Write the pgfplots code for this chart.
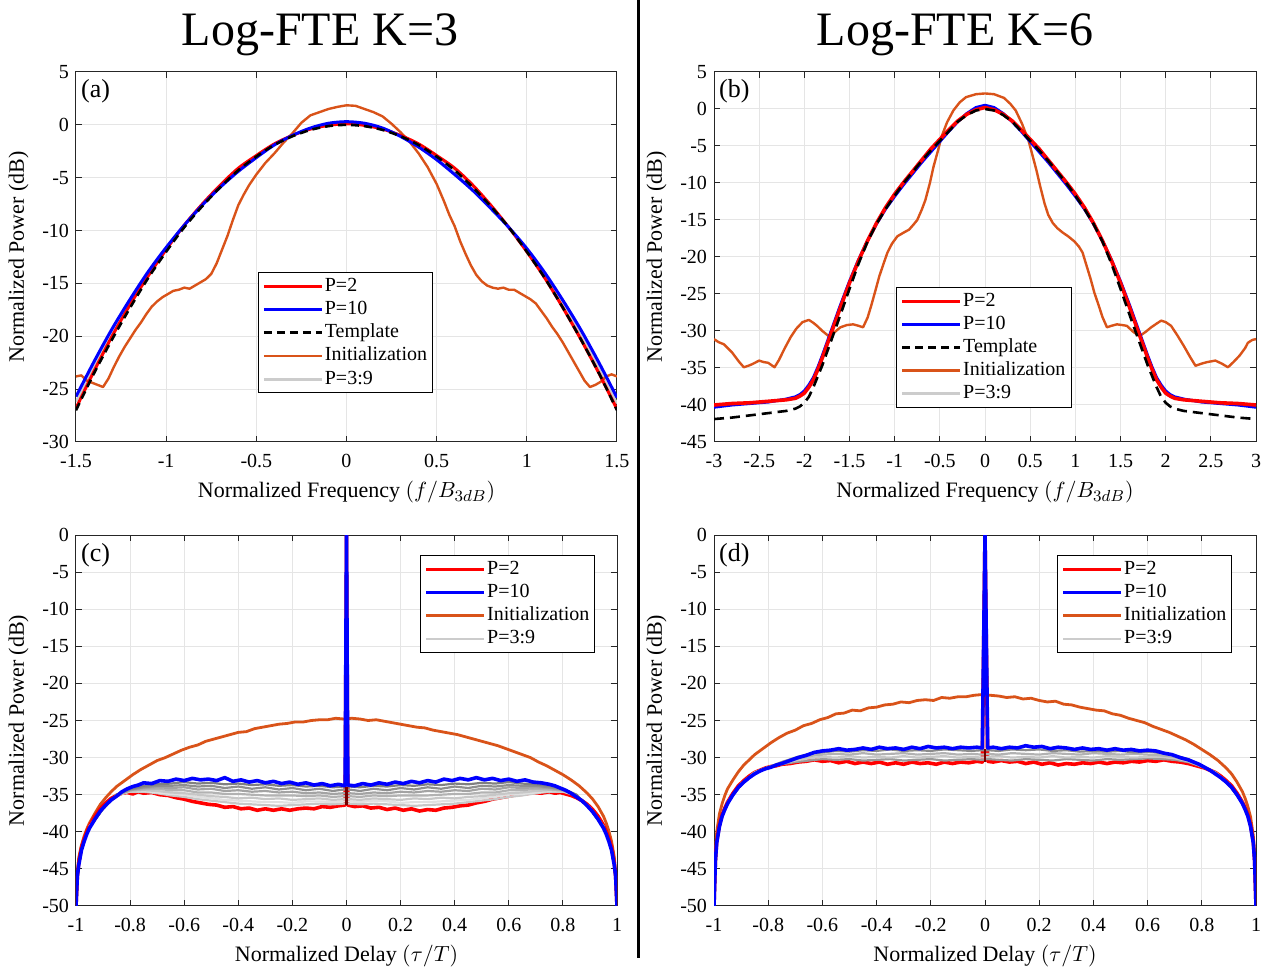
\documentclass[border=0pt]{standalone}
\usepackage{pgfplots}
\pgfplotsset{compat=1.18}
\usepackage{pgfplotstable}
\usepackage{fontspec}
\setmainfont{Liberation Serif}
\definecolor{mred}{rgb}{1,0,0}
\definecolor{mblue}{rgb}{0,0,1}
\definecolor{morange}{rgb}{0.851,0.325,0.098}
\definecolor{mgray}{rgb}{0.80,0.80,0.80}
\definecolor{mdarkred}{rgb}{0.45,0,0}
\pgfplotsset{
 mystyle/.style={
  scale only axis,
  axis line style={draw=black!85, line width=0.5pt},
  tick style={draw=black!85, line width=0.5pt},
  tick align=inside,
  major tick length=3pt,
  grid=major,
  major grid style={draw=black!10, line width=0.5pt},
  xticklabel style={font=\fontsize{10}{12}\selectfont, yshift=-2.5pt},
  yticklabel style={font=\fontsize{10}{12}\selectfont},
  label style={font=\fontsize{11}{13}\selectfont},
  /pgf/number format/assume math mode=true,
  legend image code/.code={\draw[##1] (0pt,0pt) -- (29pt,0pt);},
  legend style={draw=black, line width=0.5pt, fill=white,
    font=\fontsize{10}{12}\selectfont, inner xsep=2pt, inner ysep=1pt,
    nodes={inner sep=0.8pt, text height=7.5pt, text depth=2.5pt},
    cells={anchor=west}},
  legend cell align=left,
  every axis plot/.append style={line join=round},
 }
}
\pgfplotstableread{
x g1 g2 g3 g4 g5 g6 g7
-0.95 -39.4 -39.4 -39.3 -39.3 -39.4 -39.3 -39.3
-0.90 -36.9 -36.9 -36.8 -36.8 -36.9 -36.8 -36.8
-0.85 -35.0 -35.1 -35.1 -35.1 -35.0 -35.1 -35.1
-0.80 -34.2 -34.4 -34.5 -34.6 -34.3 -34.4 -34.5
-0.75 -33.8 -34.1 -34.4 -34.6 -34.0 -34.3 -34.5
-0.70 -33.6 -34.0 -34.5 -34.8 -33.8 -34.2 -34.7
-0.65 -33.5 -34.1 -34.7 -35.1 -33.8 -34.4 -34.9
-0.60 -33.3 -34.0 -34.8 -35.3 -33.7 -34.4 -35.0
-0.55 -33.5 -34.3 -35.0 -35.6 -33.9 -34.7 -35.3
-0.50 -33.4 -34.2 -35.2 -35.8 -33.8 -34.7 -35.5
-0.45 -33.6 -34.5 -35.3 -36.0 -34.1 -34.9 -35.7
-0.40 -33.5 -34.4 -35.5 -36.2 -33.9 -34.9 -35.8
-0.35 -33.7 -34.6 -35.4 -36.3 -34.2 -35.0 -35.9
-0.30 -33.6 -34.5 -35.6 -36.4 -34.0 -35.1 -36.0
-0.25 -33.8 -34.7 -35.5 -36.5 -34.3 -35.1 -36.0
-0.20 -33.7 -34.6 -35.7 -36.4 -34.1 -35.1 -36.1
-0.15 -33.9 -34.8 -35.6 -36.3 -34.4 -35.2 -35.9
-0.10 -33.8 -34.7 -35.5 -36.2 -34.2 -35.1 -35.9
-0.05 -34.0 -34.9 -35.7 -36.3 -34.5 -35.3 -36.0
-0.01 -33.9 -34.8 -35.6 -36.2 -34.3 -35.2 -35.9
0.01 -33.9 -34.8 -35.6 -36.2 -34.3 -35.2 -35.9
0.05 -34.0 -34.9 -35.7 -36.3 -34.5 -35.3 -36.0
0.10 -33.8 -34.7 -35.5 -36.2 -34.2 -35.1 -35.8
0.15 -33.9 -34.8 -35.6 -36.3 -34.4 -35.2 -35.9
0.20 -33.7 -34.6 -35.7 -36.4 -34.1 -35.1 -36.1
0.25 -33.8 -34.7 -35.5 -36.5 -34.3 -35.1 -36.0
0.30 -33.6 -34.5 -35.6 -36.4 -34.0 -35.1 -36.0
0.35 -33.7 -34.6 -35.4 -36.3 -34.2 -35.0 -35.9
0.40 -33.5 -34.4 -35.5 -36.2 -33.9 -34.9 -35.8
0.45 -33.6 -34.5 -35.3 -36.0 -34.1 -34.9 -35.7
0.50 -33.4 -34.2 -35.2 -35.8 -33.8 -34.7 -35.5
0.55 -33.5 -34.3 -35.0 -35.6 -33.9 -34.7 -35.3
0.60 -33.3 -34.0 -34.8 -35.3 -33.7 -34.4 -35.0
0.65 -33.5 -34.1 -34.7 -35.1 -33.8 -34.4 -34.9
0.70 -33.6 -34.0 -34.5 -34.8 -33.8 -34.2 -34.7
0.75 -33.8 -34.1 -34.4 -34.6 -34.0 -34.3 -34.5
0.80 -34.2 -34.4 -34.5 -34.6 -34.3 -34.4 -34.5
0.85 -35.0 -35.1 -35.1 -35.1 -35.0 -35.1 -35.1
0.90 -36.9 -36.9 -36.8 -36.8 -36.9 -36.8 -36.8
0.95 -39.4 -39.4 -39.3 -39.3 -39.4 -39.3 -39.3
}\grayC
\pgfplotstableread{
x g1 g2 g3 g4
-0.95 -36.1 -36.1 -36.0 -36.0
-0.90 -33.7 -33.6 -33.6 -33.5
-0.85 -32.1 -32.0 -32.0 -32.0
-0.80 -31.3 -31.3 -31.3 -31.3
-0.75 -30.6 -30.7 -30.8 -30.9
-0.70 -30.0 -30.2 -30.4 -30.6
-0.65 -29.5 -29.8 -30.1 -30.4
-0.60 -29.3 -29.6 -29.9 -30.2
-0.55 -29.1 -29.5 -30.0 -30.3
-0.50 -29.2 -29.6 -29.8 -30.2
-0.45 -29.0 -29.4 -30.0 -30.4
-0.40 -29.1 -29.6 -29.9 -30.3
-0.35 -28.9 -29.5 -30.0 -30.2
-0.30 -29.1 -29.4 -29.8 -30.4
-0.25 -29.0 -29.6 -30.0 -30.3
-0.20 -29.1 -29.5 -29.9 -30.2
-0.15 -28.9 -29.4 -29.8 -30.4
-0.10 -29.0 -29.6 -30.0 -30.3
-0.05 -29.1 -29.5 -29.9 -30.2
-0.01 -29.0 -29.6 -30.0 -30.3
0.01 -29.0 -29.5 -29.9 -30.2
0.05 -29.1 -29.6 -29.8 -30.3
0.10 -28.9 -29.4 -30.0 -30.4
0.15 -29.0 -29.5 -29.9 -30.2
0.20 -28.9 -29.6 -30.0 -30.3
0.25 -29.1 -29.4 -29.8 -30.4
0.30 -29.0 -29.5 -30.0 -30.2
0.35 -29.2 -29.6 -29.9 -30.3
0.40 -29.1 -29.4 -30.0 -30.4
0.45 -29.2 -29.5 -29.8 -30.2
0.50 -29.1 -29.6 -29.9 -30.3
0.55 -29.3 -29.5 -30.0 -30.2
0.60 -29.2 -29.6 -29.9 -30.1
0.65 -29.4 -29.7 -29.9 -30.2
0.70 -29.7 -29.9 -30.1 -30.3
0.75 -30.2 -30.4 -30.5 -30.6
0.80 -31.1 -31.2 -31.2 -31.2
0.85 -32.1 -32.0 -32.0 -32.0
0.90 -33.7 -33.6 -33.6 -33.5
0.95 -36.1 -36.1 -36.0 -36.0
}\grayD
\begin{document}
\begin{tikzpicture}
\useasboundingbox (0pt,0pt) rectangle (635pt,484.5pt);
\draw[line width=1.5pt] (319pt,484.5pt) -- (319pt,5.5pt);
\node[anchor=base, font=\fontsize{24}{28}\selectfont] at (160pt,461.5pt) {Log-FTE K=3};
\node[anchor=base, font=\fontsize{24}{28}\selectfont] at (477.5pt,461.5pt) {Log-FTE K=6};

% ---------------- (a)
\begin{axis}[mystyle, at={(38pt,263.5pt)}, anchor=south west,
  width=270.5pt, height=185pt,
  xmin=-1.5, xmax=1.5, ymin=-30, ymax=5,
  xtick={-1.5,-1,-0.5,0,0.5,1,1.5}, ytick={-30,-25,-20,-15,-10,-5,0,5},
  xlabel={Normalized Frequency $(f/B_{3dB})$}, ylabel={Normalized Power (dB)},
  legend style={at={(0.336,0.459)}, anchor=north west}]
\addlegendimage{mred, line width=1.5pt}\addlegendentry{P=2}
\addlegendimage{mblue, line width=1.5pt}\addlegendentry{P=10}
\addlegendimage{black, line width=1.3pt, dash pattern=on 4pt off 2.5pt}\addlegendentry{Template}
\addlegendimage{morange, line width=1.2pt}\addlegendentry{Initialization}
\addlegendimage{mgray, line width=1.5pt}\addlegendentry{P=3:9}
\addplot[forget plot, mgray, line width=1.2pt, smooth] coordinates {
(-1.5,-26.2) (-1.4,-22.8) (-1.3,-19.7) (-1.2,-16.8) (-1.1,-14.1) (-1.0,-11.7) (-0.9,-9.5) (-0.8,-7.55) (-0.7,-5.8) (-0.6,-4.25) (-0.5,-3.0) (-0.4,-1.85) (-0.3,-1.0) (-0.2,-0.35) (-0.1,0.05) (0,0.2)
(0.1,0.05) (0.2,-0.35) (0.3,-1.05) (0.4,-1.95) (0.5,-3.1) (0.6,-4.4) (0.7,-5.95) (0.8,-7.75) (0.9,-9.7) (1.0,-11.85) (1.1,-14.25) (1.2,-16.95) (1.3,-19.85) (1.4,-23.0) (1.5,-26.35)};
\addplot[forget plot, morange, line width=1.2pt] coordinates {
(-1.5,-23.8) (-1.47,-23.7) (-1.44,-24.2) (-1.41,-24.4) (-1.38,-24.6) (-1.35,-24.8) (-1.32,-24.0) (-1.29,-22.9) (-1.26,-21.9) (-1.23,-21.0) (-1.2,-20.2) (-1.17,-19.4) (-1.14,-18.7) (-1.11,-17.9) (-1.08,-17.2) (-1.05,-16.7) (-1.02,-16.3) (-0.99,-16.0) (-0.96,-15.7) (-0.93,-15.6) (-0.9,-15.4) (-0.87,-15.5) (-0.84,-15.2) (-0.81,-14.9) (-0.78,-14.6) (-0.75,-14.1) (-0.72,-13.1) (-0.69,-11.8) (-0.66,-10.5) (-0.63,-9.0) (-0.6,-7.6) (-0.57,-6.6) (-0.54,-5.7) (-0.5,-4.7) (-0.45,-3.6) (-0.4,-2.7) (-0.35,-1.7) (-0.3,-0.8) (-0.25,0.2) (-0.2,0.9) (-0.15,1.2) (-0.1,1.5) (-0.05,1.7) (0,1.85) (0.05,1.8) (0.1,1.5) (0.15,1.2) (0.2,0.8) (0.25,0.1) (0.3,-0.7) (0.35,-1.6) (0.4,-2.7) (0.45,-4.0) (0.5,-5.6) (0.54,-7.2) (0.57,-8.5) (0.6,-9.6) (0.63,-11.0) (0.66,-12.2) (0.69,-13.3) (0.72,-14.2) (0.75,-14.8) (0.78,-15.2) (0.81,-15.4) (0.84,-15.5) (0.87,-15.4) (0.9,-15.6) (0.93,-15.6) (0.96,-15.9) (0.99,-16.2) (1.02,-16.5) (1.05,-16.9) (1.08,-17.6) (1.11,-18.3) (1.14,-19.1) (1.17,-19.8) (1.2,-20.6) (1.23,-21.5) (1.26,-22.4) (1.29,-23.3) (1.32,-24.2) (1.35,-24.8) (1.38,-24.6) (1.41,-24.3) (1.44,-23.8) (1.47,-23.6) (1.5,-23.8)};
\addplot[forget plot, mred, line width=1.5pt, smooth] coordinates {
(-1.5,-26.8) (-1.4,-23.3) (-1.3,-20.0) (-1.2,-17.0) (-1.1,-14.3) (-1.0,-11.8) (-0.9,-9.5) (-0.8,-7.5) (-0.7,-5.7) (-0.6,-4.1) (-0.5,-2.9) (-0.4,-1.8) (-0.3,-1.0) (-0.2,-0.4) (-0.1,-0.05) (0,0.1)
(0.1,-0.05) (0.2,-0.4) (0.3,-1.0) (0.4,-1.8) (0.5,-2.9) (0.6,-4.1) (0.7,-5.7) (0.8,-7.6) (0.9,-9.7) (1.0,-12.0) (1.1,-14.5) (1.2,-17.3) (1.3,-20.3) (1.4,-23.5) (1.5,-26.9)};
\addplot[forget plot, mblue, line width=1.5pt, smooth] coordinates {
(-1.5,-25.7) (-1.4,-22.4) (-1.3,-19.3) (-1.2,-16.5) (-1.1,-13.9) (-1.0,-11.6) (-0.9,-9.5) (-0.8,-7.6) (-0.7,-5.9) (-0.6,-4.4) (-0.5,-3.1) (-0.4,-1.9) (-0.3,-1.0) (-0.2,-0.3) (-0.1,0.15) (0,0.3)
(0.1,0.15) (0.2,-0.3) (0.3,-1.1) (0.4,-2.1) (0.5,-3.3) (0.6,-4.7) (0.7,-6.2) (0.8,-7.9) (0.9,-9.7) (1.0,-11.7) (1.1,-14.0) (1.2,-16.6) (1.3,-19.4) (1.4,-22.5) (1.5,-25.8)};
\addplot[forget plot, black, line width=1.3pt, dash pattern=on 4pt off 2.5pt, smooth] coordinates {
(-1.5,-27.0) (-1.4,-23.5) (-1.3,-20.3) (-1.2,-17.3) (-1.1,-14.5) (-1.0,-12.0) (-0.9,-9.7) (-0.8,-7.7) (-0.7,-5.9) (-0.6,-4.3) (-0.5,-3.0) (-0.4,-1.9) (-0.3,-1.08) (-0.2,-0.48) (-0.1,-0.12) (0,0)
(0.1,-0.12) (0.2,-0.48) (0.3,-1.08) (0.4,-1.9) (0.5,-3.0) (0.6,-4.3) (0.7,-5.9) (0.8,-7.7) (0.9,-9.7) (1.0,-12.0) (1.1,-14.5) (1.2,-17.3) (1.3,-20.3) (1.4,-23.5) (1.5,-27.0)};
\node[anchor=north west, font=\fontsize{13}{15}\selectfont, inner sep=1pt] at (rel axis cs:0.005,0.985) {(a)};
\end{axis}

% ---------------- (b)
\begin{axis}[mystyle, at={(357pt,263.5pt)}, anchor=south west,
  width=271pt, height=185pt,
  xmin=-3, xmax=3, ymin=-45, ymax=5,
  xtick={-3,-2.5,-2,-1.5,-1,-0.5,0,0.5,1,1.5,2,2.5,3}, ytick={-45,-40,-35,-30,-25,-20,-15,-10,-5,0,5},
  xlabel={Normalized Frequency $(f/B_{3dB})$}, ylabel={Normalized Power (dB)},
  legend style={at={(0.336,0.419)}, anchor=north west}]
\addlegendimage{mred, line width=1.5pt}\addlegendentry{P=2}
\addlegendimage{mblue, line width=1.5pt}\addlegendentry{P=10}
\addlegendimage{black, line width=1.3pt, dash pattern=on 4pt off 2.5pt}\addlegendentry{Template}
\addlegendimage{morange, line width=1.2pt}\addlegendentry{Initialization}
\addlegendimage{mgray, line width=1.5pt}\addlegendentry{P=3:9}
\addplot[forget plot, morange, line width=1.2pt] coordinates {
(-3,-31.1) (-2.95,-31.5) (-2.89,-31.8) (-2.8,-32.9) (-2.72,-34.2) (-2.67,-34.9) (-2.62,-34.7) (-2.58,-34.5) (-2.5,-34.0) (-2.45,-34.2) (-2.4,-34.3) (-2.33,-34.9) (-2.28,-33.9) (-2.22,-32.4) (-2.15,-30.8) (-2.09,-29.7) (-2.02,-28.8) (-1.95,-28.5) (-1.9,-28.9) (-1.86,-29.3) (-1.8,-30.0) (-1.73,-30.7) (-1.66,-30.1) (-1.6,-29.5) (-1.53,-29.2) (-1.46,-29.1) (-1.4,-29.3) (-1.35,-29.5) (-1.3,-28.2) (-1.26,-26.6) (-1.21,-24.4) (-1.17,-22.6) (-1.12,-20.8) (-1.08,-19.4) (-1.03,-18.2) (-0.97,-17.2) (-0.9,-16.7) (-0.84,-16.3) (-0.79,-15.6) (-0.75,-15.0) (-0.7,-13.6) (-0.66,-12.3) (-0.61,-10.0) (-0.57,-7.8) (-0.52,-5.6) (-0.48,-3.7) (-0.42,-1.8) (-0.35,-0.2) (-0.28,0.9) (-0.21,1.6) (-0.1,2.0) (0,2.1)
(0.1,2.0) (0.21,1.5) (0.28,0.7) (0.34,-0.2) (0.41,-2.0) (0.48,-4.2) (0.52,-6.0) (0.57,-8.3) (0.61,-10.4) (0.66,-12.8) (0.7,-14.3) (0.75,-15.4) (0.8,-16.1) (0.86,-16.7) (0.92,-17.2) (0.99,-17.9) (1.04,-18.6) (1.08,-19.4) (1.12,-21.0) (1.17,-23.0) (1.21,-24.8) (1.26,-26.6) (1.3,-28.1) (1.35,-29.5) (1.4,-29.3) (1.46,-29.1) (1.52,-29.2) (1.57,-29.3) (1.64,-30.1) (1.71,-30.7) (1.78,-30.1) (1.84,-29.5) (1.9,-29.0) (1.95,-28.6) (2.0,-28.8) (2.06,-29.3) (2.13,-30.6) (2.2,-32.0) (2.27,-33.5) (2.33,-34.7) (2.4,-34.4) (2.46,-34.2) (2.55,-34.0) (2.62,-34.4) (2.69,-34.9) (2.75,-34.2) (2.82,-33.3) (2.88,-32.3) (2.91,-31.6) (2.96,-31.2) (3,-31.1)};
\addplot[forget plot, mgray, line width=1.2pt] coordinates {
(-3,-40.15) (-2.8,-39.9) (-2.6,-39.75) (-2.4,-39.55) (-2.2,-39.25) (-2.1,-39.0) (-2.05,-38.7) (-2.0,-38.25) (-1.95,-37.45) (-1.9,-36.45) (-1.85,-35.05) (-1.8,-33.45) (-1.7,-30.05) (-1.6,-26.65) (-1.5,-23.4) (-1.4,-20.45) (-1.3,-17.8) (-1.2,-15.45) (-1.1,-13.4) (-1.0,-11.65) (-0.9,-10.05) (-0.8,-8.55) (-0.7,-7.05) (-0.6,-5.6) (-0.5,-4.25) (-0.4,-2.9) (-0.3,-1.65) (-0.2,-0.65) (-0.1,0.05) (0,0.35)
(0.1,0.05) (0.2,-0.65) (0.3,-1.65) (0.4,-2.9) (0.5,-4.25) (0.6,-5.6) (0.7,-7.05) (0.8,-8.55) (0.9,-10.05) (1.0,-11.65) (1.1,-13.4) (1.2,-15.45) (1.3,-17.8) (1.4,-20.45) (1.5,-23.4) (1.6,-26.65) (1.7,-30.05) (1.8,-33.45) (1.85,-35.05) (1.9,-36.45) (1.95,-37.45) (2.0,-38.25) (2.05,-38.7) (2.1,-39.0) (2.2,-39.25) (2.4,-39.55) (2.6,-39.75) (2.8,-39.9) (3,-40.15)};
\addplot[forget plot, mblue, line width=1.5pt] coordinates {
(-3,-40.3) (-2.8,-40.0) (-2.6,-39.8) (-2.4,-39.6) (-2.2,-39.2) (-2.1,-38.9) (-2.05,-38.6) (-2.0,-38.1) (-1.95,-37.3) (-1.9,-36.3) (-1.85,-34.9) (-1.8,-33.3) (-1.7,-29.9) (-1.6,-26.5) (-1.5,-23.3) (-1.4,-20.4) (-1.3,-17.8) (-1.2,-15.5) (-1.1,-13.5) (-1.0,-11.8) (-0.9,-10.2) (-0.8,-8.7) (-0.7,-7.2) (-0.6,-5.8) (-0.5,-4.4) (-0.4,-3.0) (-0.3,-1.7) (-0.2,-0.6) (-0.1,0.2) (0,0.5)
(0.1,0.2) (0.2,-0.6) (0.3,-1.7) (0.4,-3.0) (0.5,-4.4) (0.6,-5.8) (0.7,-7.2) (0.8,-8.7) (0.9,-10.2) (1.0,-11.8) (1.1,-13.5) (1.2,-15.5) (1.3,-17.8) (1.4,-20.4) (1.5,-23.3) (1.6,-26.5) (1.7,-29.9) (1.8,-33.3) (1.85,-34.9) (1.9,-36.3) (1.95,-37.3) (2.0,-38.1) (2.05,-38.6) (2.1,-38.9) (2.2,-39.2) (2.4,-39.6) (2.6,-39.8) (2.8,-40.0) (3,-40.3)};
\addplot[forget plot, mred, line width=1.8pt] coordinates {
(-3,-40.0) (-2.8,-39.8) (-2.6,-39.7) (-2.4,-39.5) (-2.2,-39.3) (-2.1,-39.1) (-2.05,-38.8) (-2.0,-38.4) (-1.95,-37.6) (-1.9,-36.6) (-1.85,-35.2) (-1.8,-33.6) (-1.7,-30.2) (-1.6,-26.8) (-1.5,-23.5) (-1.4,-20.5) (-1.3,-17.8) (-1.2,-15.4) (-1.1,-13.3) (-1.0,-11.5) (-0.9,-9.9) (-0.8,-8.4) (-0.7,-6.9) (-0.6,-5.4) (-0.5,-4.1) (-0.4,-2.8) (-0.3,-1.6) (-0.2,-0.7) (-0.1,-0.1) (0,0.2)
(0.1,-0.1) (0.2,-0.7) (0.3,-1.6) (0.4,-2.8) (0.5,-4.1) (0.6,-5.4) (0.7,-6.9) (0.8,-8.4) (0.9,-9.9) (1.0,-11.5) (1.1,-13.3) (1.2,-15.4) (1.3,-17.8) (1.4,-20.5) (1.5,-23.5) (1.6,-26.8) (1.7,-30.2) (1.8,-33.6) (1.85,-35.2) (1.9,-36.6) (1.95,-37.6) (2.0,-38.4) (2.05,-38.8) (2.1,-39.1) (2.2,-39.3) (2.4,-39.5) (2.6,-39.7) (2.8,-39.8) (3,-40.0)};
\addplot[forget plot, black, line width=1.3pt, dash pattern=on 5pt off 3pt] coordinates {
(-3,-41.9) (-2.8,-41.7) (-2.6,-41.4) (-2.4,-41.1) (-2.2,-40.8) (-2.1,-40.5) (-2.05,-40.2) (-2.0,-39.7) (-1.95,-38.9) (-1.9,-37.6) (-1.8,-34.6) (-1.7,-31.2) (-1.6,-27.8) (-1.5,-24.3) (-1.4,-20.9) (-1.3,-17.9) (-1.2,-15.5) (-1.1,-13.5) (-1.0,-11.7) (-0.9,-10.0) (-0.8,-8.5) (-0.7,-7.0) (-0.6,-5.6) (-0.5,-4.3) (-0.4,-3.0) (-0.3,-1.7) (-0.2,-0.8) (-0.1,-0.2) (0,0)
(0.1,-0.2) (0.2,-0.8) (0.3,-1.7) (0.4,-3.0) (0.5,-4.3) (0.6,-5.6) (0.7,-7.0) (0.8,-8.5) (0.9,-10.0) (1.0,-11.7) (1.1,-13.5) (1.2,-15.5) (1.3,-17.9) (1.4,-20.9) (1.5,-24.3) (1.6,-27.8) (1.7,-31.2) (1.8,-34.6) (1.9,-37.6) (1.95,-38.9) (2.0,-39.7) (2.05,-40.2) (2.1,-40.5) (2.2,-40.8) (2.4,-41.1) (2.6,-41.4) (2.8,-41.7) (3,-41.9)};
\node[anchor=north west, font=\fontsize{13}{15}\selectfont, inner sep=1pt] at (rel axis cs:0.005,0.985) {(b)};
\end{axis}

% ---------------- (c)
\begin{axis}[mystyle, at={(38pt,31.5pt)}, anchor=south west,
  width=270.5pt, height=185.5pt,
  xmin=-1, xmax=1, ymin=-50, ymax=0,
  xtick={-1,-0.8,-0.6,-0.4,-0.2,0,0.2,0.4,0.6,0.8,1}, ytick={-50,-45,-40,-35,-30,-25,-20,-15,-10,-5,0},
  xlabel={Normalized Delay $(\tau/T)$}, ylabel={Normalized Power (dB)},
  legend style={at={(0.636,0.946)}, anchor=north west}]
\addlegendimage{mred, line width=1.5pt}\addlegendentry{P=2}
\addlegendimage{mblue, line width=1.5pt}\addlegendentry{P=10}
\addlegendimage{morange, line width=1.5pt}\addlegendentry{Initialization}
\addlegendimage{mgray, line width=1pt}\addlegendentry{P=3:9}
\addplot[forget plot, morange, line width=1.4pt] coordinates {
(-1,-50) (-0.995,-46) (-0.99,-43.5) (-0.98,-41.8) (-0.97,-40.6) (-0.96,-39.6) (-0.95,-38.8) (-0.93,-37.5) (-0.91,-36.3) (-0.89,-35.4) (-0.87,-34.6) (-0.85,-33.9) (-0.82,-33.1) (-0.79,-32.3) (-0.76,-31.6) (-0.73,-31.0) (-0.7,-30.4) (-0.67,-30.0) (-0.64,-29.5) (-0.61,-29.0) (-0.58,-28.6) (-0.55,-28.3) (-0.52,-27.8) (-0.49,-27.5) (-0.46,-27.2) (-0.43,-26.9) (-0.4,-26.6) (-0.37,-26.5) (-0.34,-26.1) (-0.31,-25.9) (-0.28,-25.7) (-0.25,-25.5) (-0.22,-25.4) (-0.19,-25.2) (-0.16,-25.2) (-0.13,-25.0) (-0.1,-24.9) (-0.07,-24.9) (-0.04,-24.7) (-0.01,-24.8) (0.02,-24.7) (0.05,-24.8) (0.08,-25.0) (0.11,-24.9) (0.14,-25.1) (0.17,-25.3) (0.2,-25.5) (0.23,-25.7) (0.26,-25.9) (0.29,-26.0) (0.32,-26.3) (0.35,-26.5) (0.38,-26.7) (0.41,-26.9) (0.44,-27.2) (0.47,-27.5) (0.5,-27.8) (0.53,-28.1) (0.56,-28.4) (0.59,-28.8) (0.62,-29.2) (0.65,-29.6) (0.68,-30.0) (0.71,-30.6) (0.74,-31.1) (0.77,-31.7) (0.8,-32.3) (0.83,-33.0) (0.86,-33.8) (0.89,-34.8) (0.91,-35.6) (0.93,-36.6) (0.95,-37.9) (0.96,-38.8) (0.97,-39.9) (0.98,-41.3) (0.99,-43.4) (0.995,-46) (1,-50)};
\addplot[forget plot, mred, line width=1.8pt] coordinates {
(-1,-50) (-0.995,-46) (-0.99,-44.2) (-0.98,-42.2) (-0.97,-41.0) (-0.96,-40.0) (-0.95,-39.2) (-0.93,-37.9) (-0.91,-36.9) (-0.89,-36.1) (-0.87,-35.5) (-0.85,-35.1) (-0.83,-34.8) (-0.81,-34.7) (-0.79,-34.9) (-0.77,-34.6) (-0.75,-34.8) (-0.72,-34.7) (-0.69,-35.0) (-0.66,-35.1) (-0.63,-35.4) (-0.6,-35.6) (-0.57,-35.9) (-0.54,-36.1) (-0.51,-36.3) (-0.48,-36.4) (-0.45,-36.7) (-0.42,-36.6) (-0.39,-36.9) (-0.36,-36.8) (-0.33,-37.1) (-0.3,-36.9) (-0.27,-37.1) (-0.24,-36.9) (-0.21,-37.1) (-0.18,-36.9) (-0.15,-36.8) (-0.12,-36.9) (-0.09,-36.6) (-0.06,-36.7) (-0.03,-36.5) (-0.005,-36.4) (0,0) (0.005,-36.4) (0.03,-36.6) (0.06,-36.5) (0.09,-36.8) (0.12,-36.7) (0.15,-37.0) (0.18,-36.8) (0.21,-37.1) (0.24,-36.9) (0.27,-37.2) (0.3,-37.0) (0.33,-37.1) (0.36,-36.8) (0.39,-36.7) (0.42,-36.5) (0.45,-36.4) (0.48,-36.1) (0.51,-35.9) (0.54,-35.6) (0.57,-35.4) (0.6,-35.2) (0.63,-35.0) (0.66,-34.9) (0.69,-34.7) (0.72,-34.8) (0.75,-34.6) (0.77,-34.8) (0.79,-34.7) (0.81,-34.9) (0.83,-35.1) (0.85,-35.4) (0.87,-35.8) (0.89,-36.3) (0.91,-37.0) (0.93,-37.9) (0.95,-39.1) (0.96,-39.9) (0.97,-40.9) (0.98,-42.1) (0.99,-44.2) (0.995,-46) (1,-50)};
\addplot[forget plot, black!22, line width=1.1pt] table[x=x, y=g4] {\grayC};
\addplot[forget plot, black!12, line width=1.1pt] table[x=x, y=g7] {\grayC};
\addplot[forget plot, black!22, line width=1.1pt] table[x=x, y=g3] {\grayC};
\addplot[forget plot, black!30, line width=1.1pt] table[x=x, y=g6] {\grayC};
\addplot[forget plot, black!36, line width=1.1pt] table[x=x, y=g2] {\grayC};
\addplot[forget plot, black!44, line width=1.1pt] table[x=x, y=g5] {\grayC};
\addplot[forget plot, black!50, line width=1.1pt] table[x=x, y=g1] {\grayC};
\addplot[forget plot, mblue, line width=1.8pt] coordinates {
(-1,-50) (-0.995,-46) (-0.99,-44.5) (-0.98,-42.5) (-0.97,-41.3) (-0.96,-40.3) (-0.95,-39.5) (-0.93,-38.3) (-0.91,-37.2) (-0.89,-36.4) (-0.87,-35.7) (-0.85,-35.2) (-0.83,-34.6) (-0.81,-34.2) (-0.79,-33.9) (-0.77,-33.7) (-0.75,-33.4) (-0.72,-33.5) (-0.69,-33.1) (-0.66,-33.2) (-0.63,-32.9) (-0.6,-33.1) (-0.57,-32.8) (-0.54,-33.0) (-0.51,-32.9) (-0.48,-33.1) (-0.45,-32.7) (-0.42,-33.2) (-0.39,-33.0) (-0.36,-33.3) (-0.33,-33.1) (-0.3,-33.4) (-0.27,-33.2) (-0.24,-33.5) (-0.21,-33.3) (-0.18,-33.6) (-0.15,-33.4) (-0.12,-33.7) (-0.09,-33.5) (-0.06,-33.8) (-0.03,-33.6) (-0.005,-33.8) (0,0) (0.005,-33.7) (0.03,-33.8) (0.06,-33.5) (0.09,-33.7) (0.12,-33.4) (0.15,-33.6) (0.18,-33.3) (0.21,-33.5) (0.24,-33.2) (0.27,-33.4) (0.3,-33.1) (0.33,-33.3) (0.36,-32.9) (0.39,-33.1) (0.42,-32.8) (0.45,-33.0) (0.48,-32.7) (0.51,-33.0) (0.54,-32.8) (0.57,-33.1) (0.6,-32.9) (0.63,-33.2) (0.66,-33.0) (0.69,-33.3) (0.72,-33.4) (0.75,-33.6) (0.77,-33.8) (0.79,-34.1) (0.81,-34.4) (0.83,-34.8) (0.85,-35.3) (0.87,-35.8) (0.89,-36.5) (0.91,-37.3) (0.93,-38.3) (0.95,-39.5) (0.96,-40.3) (0.97,-41.3) (0.98,-42.5) (0.99,-44.5) (0.995,-46) (1,-50)};
\addplot[forget plot, mdarkred, line width=1.6pt] coordinates {(0,-36.4) (0,-33.9)};
\node[anchor=north west, font=\fontsize{13}{15}\selectfont, inner sep=1pt] at (rel axis cs:0.005,0.985) {(c)};
\end{axis}

% ---------------- (d)
\begin{axis}[mystyle, at={(357pt,31.5pt)}, anchor=south west,
  width=271pt, height=185.5pt,
  xmin=-1, xmax=1, ymin=-50, ymax=0,
  xtick={-1,-0.8,-0.6,-0.4,-0.2,0,0.2,0.4,0.6,0.8,1}, ytick={-50,-45,-40,-35,-30,-25,-20,-15,-10,-5,0},
  xlabel={Normalized Delay $(\tau/T)$}, ylabel={Normalized Power (dB)},
  legend style={at={(0.633,0.946)}, anchor=north west}]
\addlegendimage{mred, line width=1.5pt}\addlegendentry{P=2}
\addlegendimage{mblue, line width=1.5pt}\addlegendentry{P=10}
\addlegendimage{morange, line width=1.5pt}\addlegendentry{Initialization}
\addlegendimage{mgray, line width=1pt}\addlegendentry{P=3:9}
\addplot[forget plot, morange, line width=1.4pt] coordinates {
(-1,-50) (-0.995,-43) (-0.99,-40) (-0.98,-37.6) (-0.97,-36.2) (-0.96,-35.1) (-0.95,-34.2) (-0.93,-33.0) (-0.91,-31.9) (-0.89,-31.0) (-0.87,-30.3) (-0.85,-29.6) (-0.82,-28.8) (-0.79,-28.0) (-0.76,-27.3) (-0.73,-26.7) (-0.7,-26.3) (-0.67,-25.7) (-0.64,-25.4) (-0.61,-24.9) (-0.58,-24.6) (-0.55,-24.1) (-0.52,-24.0) (-0.49,-23.6) (-0.46,-23.7) (-0.43,-23.3) (-0.4,-23.2) (-0.37,-22.9) (-0.34,-22.8) (-0.31,-22.5) (-0.28,-22.6) (-0.25,-22.3) (-0.22,-22.2) (-0.19,-22.3) (-0.16,-21.9) (-0.13,-22.0) (-0.1,-21.8) (-0.07,-21.8) (-0.04,-21.6) (-0.01,-21.5) (0.02,-21.6) (0.05,-21.7) (0.08,-21.9) (0.11,-21.8) (0.14,-22.1) (0.17,-22.0) (0.2,-22.3) (0.23,-22.5) (0.26,-22.4) (0.29,-22.8) (0.32,-22.9) (0.35,-23.2) (0.38,-23.4) (0.41,-23.6) (0.44,-23.7) (0.47,-24.1) (0.5,-24.3) (0.53,-24.7) (0.56,-25.0) (0.59,-25.3) (0.62,-25.8) (0.65,-26.2) (0.68,-26.6) (0.71,-27.1) (0.74,-27.6) (0.77,-28.2) (0.8,-28.9) (0.83,-29.6) (0.86,-30.4) (0.89,-31.4) (0.91,-32.2) (0.93,-33.3) (0.95,-34.6) (0.96,-35.5) (0.97,-36.6) (0.98,-38.0) (0.99,-40.5) (0.995,-43.5) (1,-50)};
\addplot[forget plot, mred, line width=1.8pt] coordinates {
(-1,-50) (-0.995,-44) (-0.99,-41.3) (-0.98,-39.1) (-0.97,-37.7) (-0.96,-36.8) (-0.95,-36.0) (-0.93,-34.8) (-0.91,-33.8) (-0.89,-33.1) (-0.87,-32.5) (-0.85,-32.0) (-0.83,-31.7) (-0.81,-31.4) (-0.79,-31.2) (-0.77,-31.1) (-0.75,-30.9) (-0.72,-30.8) (-0.69,-30.6) (-0.66,-30.5) (-0.63,-30.3) (-0.6,-30.5) (-0.57,-30.4) (-0.54,-30.7) (-0.51,-30.5) (-0.48,-30.8) (-0.45,-30.6) (-0.42,-30.8) (-0.39,-30.6) (-0.36,-30.9) (-0.33,-30.7) (-0.3,-30.9) (-0.27,-30.6) (-0.24,-30.8) (-0.21,-30.7) (-0.18,-30.9) (-0.15,-30.6) (-0.12,-30.8) (-0.09,-30.6) (-0.06,-30.7) (-0.03,-30.5) (-0.01,-30.6) (0,0) (0.01,-30.5) (0.03,-30.6) (0.06,-30.4) (0.09,-30.6) (0.12,-30.5) (0.15,-30.8) (0.18,-30.6) (0.21,-30.9) (0.24,-30.7) (0.27,-31.0) (0.3,-30.8) (0.33,-30.9) (0.36,-30.7) (0.39,-30.8) (0.42,-30.6) (0.45,-30.8) (0.48,-30.6) (0.51,-30.7) (0.54,-30.5) (0.57,-30.6) (0.6,-30.4) (0.63,-30.5) (0.66,-30.3) (0.69,-30.5) (0.72,-30.6) (0.75,-30.8) (0.77,-31.0) (0.79,-31.2) (0.81,-31.4) (0.83,-31.7) (0.85,-32.0) (0.87,-32.5) (0.89,-33.1) (0.91,-33.8) (0.93,-34.8) (0.95,-36.0) (0.96,-36.8) (0.97,-37.7) (0.98,-39.1) (0.99,-41.3) (0.995,-44) (1,-50)};
\addplot[forget plot, black!40, line width=1.1pt] table[x=x, y=g4] {\grayD};
\addplot[forget plot, black!22, line width=1.1pt] table[x=x, y=g3] {\grayD};
\addplot[forget plot, black!30, line width=1.1pt] table[x=x, y=g2] {\grayD};
\addplot[forget plot, black!45, line width=1.1pt] table[x=x, y=g1] {\grayD};
\addplot[forget plot, mblue, line width=1.8pt] coordinates {
(-1,-50) (-0.995,-44) (-0.99,-41.5) (-0.98,-39.3) (-0.97,-37.9) (-0.96,-37.0) (-0.95,-36.2) (-0.93,-35.0) (-0.91,-34.0) (-0.89,-33.3) (-0.87,-32.7) (-0.85,-32.2) (-0.83,-31.8) (-0.81,-31.5) (-0.79,-31.3) (-0.77,-31.0) (-0.75,-30.8) (-0.72,-30.4) (-0.69,-30.0) (-0.66,-29.7) (-0.63,-29.3) (-0.6,-29.1) (-0.57,-29.0) (-0.54,-28.8) (-0.51,-29.0) (-0.48,-28.9) (-0.45,-28.7) (-0.42,-28.9) (-0.39,-28.6) (-0.36,-28.8) (-0.33,-28.7) (-0.3,-28.9) (-0.27,-28.6) (-0.24,-28.8) (-0.21,-28.5) (-0.18,-28.7) (-0.15,-28.6) (-0.12,-28.8) (-0.09,-28.6) (-0.06,-28.7) (-0.03,-28.6) (-0.01,-28.7) (0,0) (0.01,-28.7) (0.03,-28.6) (0.06,-28.8) (0.09,-28.6) (0.12,-28.7) (0.15,-28.4) (0.18,-28.6) (0.21,-28.5) (0.24,-28.8) (0.27,-28.6) (0.3,-28.7) (0.33,-28.9) (0.36,-28.7) (0.39,-28.9) (0.42,-28.8) (0.45,-29.0) (0.48,-28.8) (0.51,-29.0) (0.54,-28.9) (0.57,-29.1) (0.6,-29.0) (0.63,-29.1) (0.66,-29.4) (0.69,-29.6) (0.72,-30.0) (0.75,-30.3) (0.77,-30.6) (0.79,-30.9) (0.81,-31.3) (0.83,-31.7) (0.85,-32.2) (0.87,-32.7) (0.89,-33.3) (0.91,-34.0) (0.93,-35.0) (0.95,-36.2) (0.96,-37.0) (0.97,-37.9) (0.98,-39.3) (0.99,-41.5) (0.995,-44) (1,-50)};
\addplot[forget plot, mdarkred, line width=1.2pt] coordinates {(0,-30.6) (0,-28.9)};
\node[anchor=north west, font=\fontsize{13}{15}\selectfont, inner sep=1pt] at (rel axis cs:0.005,0.985) {(d)};
\end{axis}
\end{tikzpicture}
\end{document}
